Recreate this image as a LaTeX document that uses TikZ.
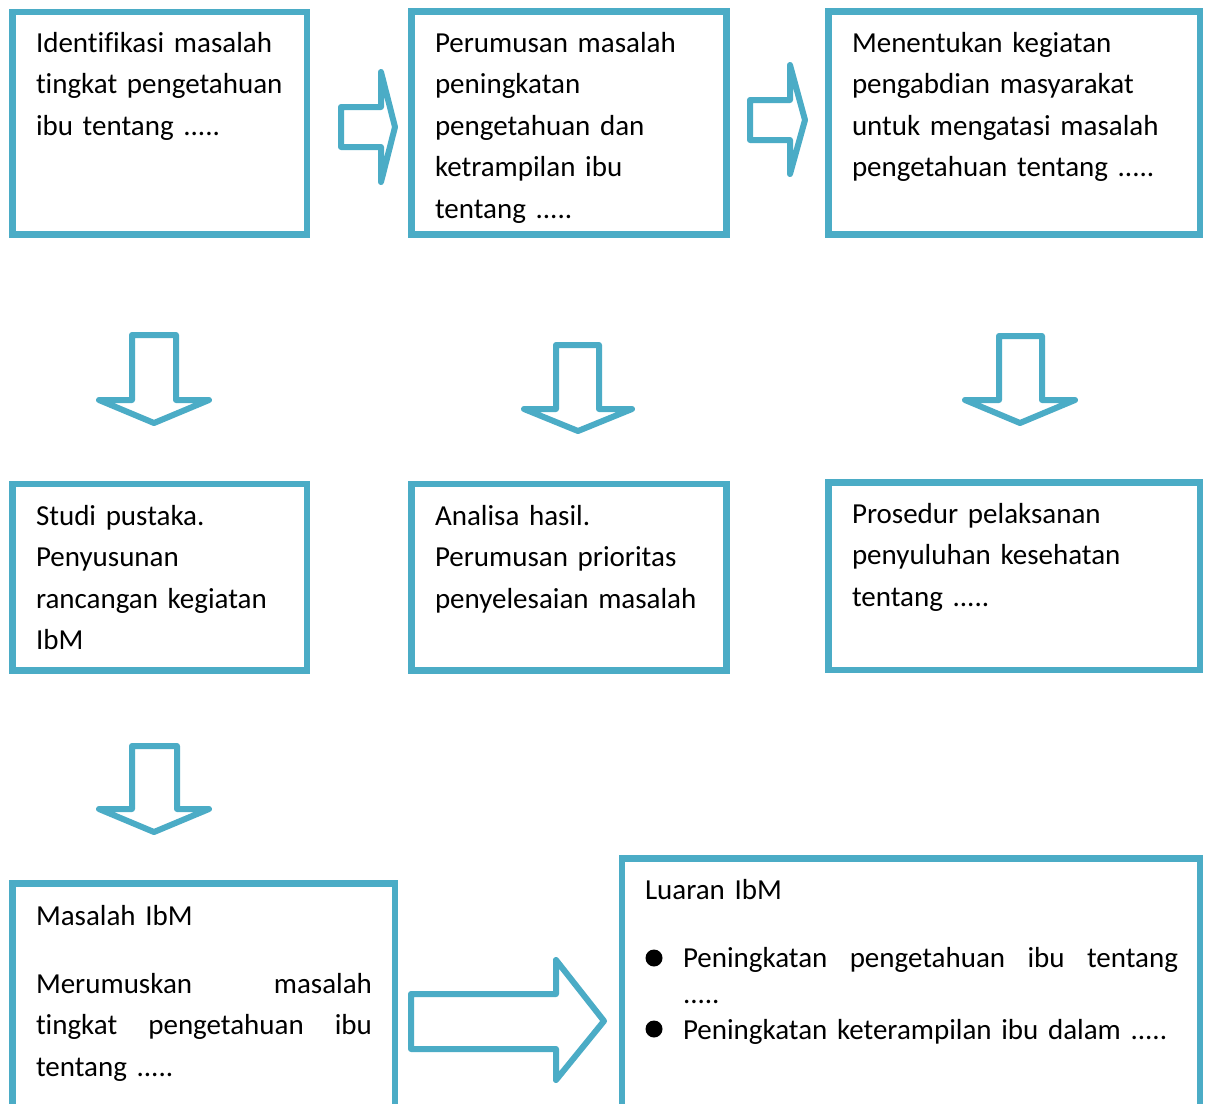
\documentclass[tikz,border=0pt]{standalone}
\usepackage{fontspec}
\setmainfont{Carlito}[Ligatures=NoCommon]
\definecolor{acc}{HTML}{4BACC6}
\begin{document}
\begin{tikzpicture}[x=1pt,y=-1pt,
  box/.style={draw=acc,line width=6.5pt,rectangle,inner sep=0pt,outer sep=0pt},
  txt/.style={anchor=north west,inner sep=0pt,outer sep=0pt,align=left,text width=#1,font=\fontsize{29}{41.5}\selectfont},
  txt/.default=350pt,
  blockarrow/.style={draw=acc,line width=6pt,line join=round,fill=white},
  bulletdot/.style={circle,fill=black,inner sep=0pt,minimum size=17pt}]
\useasboundingbox (0,0) rectangle (1209,1103);
\clip (0,0) rectangle (1209,1103);
\fill[white] (0,0) rectangle (1209,1103);

% boxes
\node[box,minimum width=294.5pt,minimum height=222.5pt] (b1) at (159.75,123.25) {};
\node[box,minimum width=315pt,minimum height=223pt] (b2) at (569,123) {};
\node[box,minimum width=371.5pt,minimum height=223pt] (b3) at (1014.25,123) {};
\node[box,minimum width=294.5pt,minimum height=186.5pt] (b4) at (159.75,577.25) {};
\node[box,minimum width=315pt,minimum height=186.5pt] (b5) at (569,577.25) {};
\node[box,minimum width=371.5pt,minimum height=187.5pt] (b6) at (1014.25,576.25) {};
\node[box,minimum width=382.5pt,minimum height=246.5pt] (b7) at (203.75,1006.75) {};
\node[box,minimum width=578pt,minimum height=271.5pt] (b8) at (911,994.25) {};

% texts
\node[txt] (t1) at (36,23) {\strut Identifikasi masalah\\ tingkat pengetahuan\\ ibu tentang .....};
\node[txt] (t2) at (435,23) {\strut Perumusan masalah\\ peningkatan\\ pengetahuan dan\\ ketrampilan ibu\\ tentang .....};
\node[txt] (t3) at (852,23) {\strut Menentukan kegiatan\\ pengabdian masyarakat\\ untuk mengatasi masalah\\ pengetahuan tentang .....};
\node[txt] (t4) at (36,496) {\strut Studi pustaka.\\ Penyusunan\\ rancangan kegiatan\\ IbM};
\node[txt] (t5) at (435,496) {\strut Analisa hasil.\\ Perumusan prioritas\\ penyelesaian masalah};
\node[txt] (t6) at (852,494) {\strut Prosedur pelaksanan\\ penyuluhan kesehatan\\ tentang .....};
\node[txt] (t7) at (36,896) {\strut Masalah IbM\\[26.5pt]
  \makebox[336pt][s]{Merumuskan\hfill masalah}\\
  \makebox[336pt][s]{tingkat\hfill pengetahuan\hfill ibu}\\
  tentang .....};
\node[txt] (t8) at (645,870) {\strut Luaran IbM};
\node[txt=500pt,font=\fontsize{29}{36}\selectfont] (t9) at (683,941.8) {\strut\makebox[495pt][s]{Peningkatan\hfill pengetahuan\hfill ibu\hfill tentang}\\
  .....\\
  Peningkatan keterampilan ibu dalam .....};
\node[bulletdot] (d1) at (654,958) {};
\node[bulletdot] (d2) at (654,1029) {};

% block arrows
\draw[blockarrow] (341,107) -- (381,107) -- (381,72) -- (395,127) -- (381,182) -- (381,147) -- (341,147) -- cycle;
\draw[blockarrow] (750,100) -- (790,100) -- (790,65) -- (805,120) -- (790,174) -- (790,140) -- (750,140) -- cycle;
\draw[blockarrow] (132,335) -- (176,335) -- (176,400) -- (209,400) -- (154,423) -- (99,400) -- (132,400) -- cycle;
\draw[blockarrow] (556,345) -- (599,345) -- (599,409) -- (632,409) -- (578,431) -- (524,409) -- (556,409) -- cycle;
\draw[blockarrow] (999,336) -- (1042,336) -- (1042,400) -- (1075,400) -- (1020,423) -- (965,400) -- (999,400) -- cycle;
\draw[blockarrow] (132,746) -- (177,746) -- (177,809) -- (209,809) -- (154,832) -- (99,809) -- (132,809) -- cycle;
\draw[blockarrow] (411,994) -- (556,994) -- (556,960) -- (604,1021) -- (556,1080) -- (556,1049) -- (411,1049) -- cycle;
\end{tikzpicture}
\end{document}
